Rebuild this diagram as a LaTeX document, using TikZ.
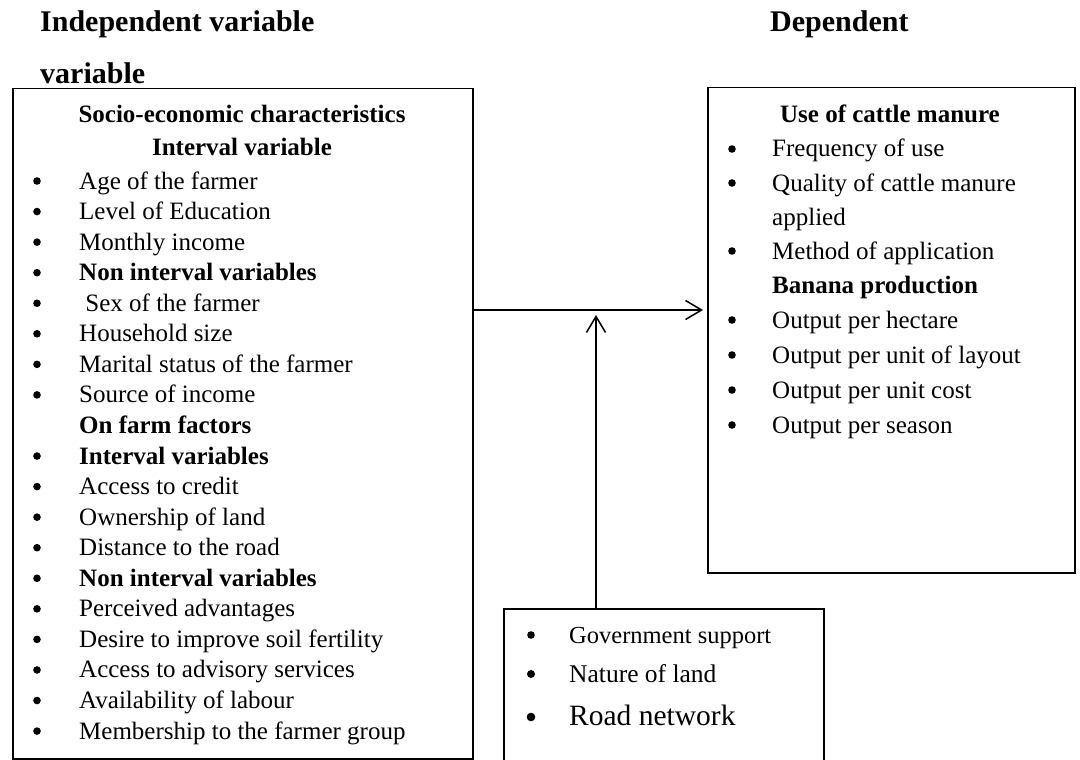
\documentclass[tikz,border=0pt]{standalone}
\usepackage{fontspec}
\setmainfont{Liberation Serif}
\usetikzlibrary{arrows.meta}
\begin{document}
\begin{tikzpicture}[x=1pt,y=-1pt,
  box/.style={draw, line width=1.5pt, inner sep=0pt, anchor=north west},
  txt/.style={anchor=base west, inner sep=0pt, font=\fontsize{25}{30}\selectfont},
  hd/.style={anchor=base, inner sep=0pt, font=\fontsize{25}{30}\selectfont\bfseries},
  ttl/.style={anchor=base west, inner sep=0pt, font=\fontsize{30}{36}\selectfont\bfseries},
  arr/.style={line width=1.5pt, -{Straight Barb[length=16pt,width=19pt,line width=1.5pt]}}]
\useasboundingbox (0,0) rectangle (1080,760);
\clip (0,0) rectangle (1080,760);

% titles
\node[ttl] (t1) at (40,32) {Independent variable};
\node[ttl] (t2) at (40,84) {variable};
\node[ttl] (t3) at (770,32) {Dependent};

% boxes
\node[box, minimum width=460pt, minimum height=670pt] (L) at (12,88) {};
\node[box, minimum width=367pt, minimum height=485pt] (R) at (707,87) {};
\node[box, minimum width=320pt, minimum height=200pt] (B) at (503,608) {};

% left box
\node[hd] (lh1) at (242,122) {Socio-economic characteristics};
\node[hd] (lh2) at (242,155) {Interval variable};
\foreach \i/\k/\t in {0/1/Age of the farmer,1/1/Level of Education,2/1/Monthly income,3/2/Non interval variables,4/1/{\ Sex of the farmer},5/1/Household size,6/1/Marital status of the farmer,7/1/Source of income,8/3/On farm factors,9/2/Interval variables,10/1/Access to credit,11/1/Ownership of land,12/1/Distance to the road,13/2/Non interval variables,14/1/Perceived advantages,15/1/Desire to improve soil fertility,16/1/Access to advisory services,17/1/Availability of labour,18/1/Membership to the farmer group}{
  \pgfmathsetmacro\yb{189+30.56*\i}
  \ifnum\k<3 \fill (37,\yb-8) circle (3.8pt); \fi
  \ifnum\k>1 \def\ff{\bfseries}\else\def\ff{}\fi
  \node[txt] (l\i) at (79,\yb) {\ff\t};
}

% right box
\node[hd] (rh) at (890,122) {Use of cattle manure};
\foreach \i/\yb/\k/\t in {1/157/1/Frequency of use,2/191/1/Quality of cattle manure,3/225/0/applied,4/259/1/Method of application,5/293/2/Banana production,6/328/1/Output per hectare,7/363/1/Output per unit of layout,8/398/1/Output per unit cost,9/433/1/Output per season}{
  \ifnum\k=1 \fill (732,\yb-8) circle (3.8pt); \fi
  \ifnum\k=2 \def\ff{\bfseries}\else\def\ff{}\fi
  \node[txt] (r\i) at (772,\yb) {\ff\t};
}

% bottom box
\fill (531,635) circle (3.8pt);
\fill (531,674) circle (4pt);
\fill (531,717) circle (4.3pt);
\node[txt, font=\fontsize{24.5}{30}\selectfont] (b1) at (569,643) {Government support};
\node[txt, font=\fontsize{25.5}{30}\selectfont] (b2) at (569,682) {Nature of land};
\node[txt, font=\fontsize{29.5}{34}\selectfont] (b3) at (569,725) {Road network};

% connectors
\coordinate (hy) at (0,310);
\coordinate (vx) at (596,0);
\coordinate (vtip) at (596,315);
\draw[arr, shorten >=4pt] (L.east |- hy) -- (R.west |- hy);
\draw[arr] (B.north -| vx) -- (vtip);
\end{tikzpicture}
\end{document}
